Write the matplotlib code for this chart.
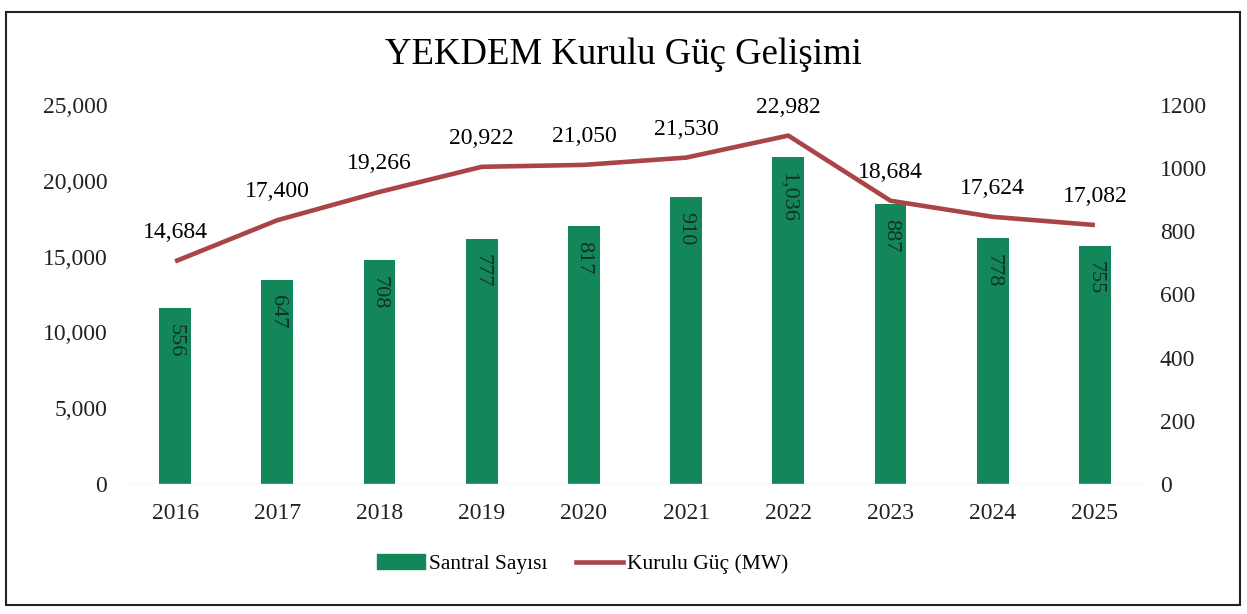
import numpy as np
import matplotlib.pyplot as plt
from matplotlib.patches import Rectangle
from matplotlib.lines import Line2D

plt.rcParams['font.family'] = ['Liberation Serif', 'DejaVu Serif']

years = ['2016', '2017', '2018', '2019', '2020', '2021', '2022', '2023', '2024', '2025']
kurulu_guc = [14684, 17400, 19266, 20922, 21050, 21530, 22982, 18684, 17624, 17082]
santral_sayisi = [556, 647, 708, 777, 817, 910, 1036, 887, 778, 755]

green = '#14875a'
red = '#a94447'

fig = plt.figure(figsize=(12.47, 6.14), dpi=100)
ax = fig.add_axes([124 / 1247, 1 - 484 / 614, (1146 - 124) / 1247, (484 - 105) / 614])
ax2 = ax.twinx()

x = np.arange(len(years))

# bars on the right axis (plant count)
ax2.bar(x, santral_sayisi, width=0.31, color=green, zorder=2)
ax2.set_ylim(0, 1200)
ax2.set_yticks(range(0, 1201, 200))
for xi, v in zip(x, santral_sayisi):
    ax2.annotate(f'{v:,}', (xi, v), xytext=(0, -11), textcoords='offset points',
                 rotation=270, ha='center', va='top', fontsize=16, color='#10302a')

# line on the left axis (installed power)
ax.plot(x, kurulu_guc, color=red, lw=3.3, zorder=3, solid_capstyle='butt')
ax.set_ylim(0, 25000)
ax.set_yticks(range(0, 25001, 5000))
ax.set_yticklabels([f'{v:,}' for v in range(0, 25001, 5000)])
for xi, v in zip(x, kurulu_guc):
    ax.annotate(f'{v:,}', (xi, v), xytext=(0, 13), textcoords='offset points',
                ha='center', va='bottom', fontsize=17)

ax.set_zorder(ax2.get_zorder() + 1)
ax.patch.set_visible(False)

ax.set_xlim(-0.5, len(years) - 0.5)
ax.set_xticks(x)
ax.set_xticklabels(years)

for a in (ax, ax2):
    for s in a.spines.values():
        s.set_visible(False)
    a.tick_params(length=0, labelsize=17, colors='#222222')
ax.tick_params(axis='x', pad=14)
ax.tick_params(axis='y', pad=12)
ax2.tick_params(axis='y', pad=10)
ax.axhline(0, color='#dddddd', lw=1, zorder=1)

fig.text(0.5, 1 - 55 / 614, 'YEKDEM Kurulu Güç Gelişimi', ha='center', va='center', fontsize=26.5)

handles = [Rectangle((0, 0), 1, 1, color=green),
           Line2D([0], [0], color=red, lw=3.3)]
fig.legend(handles, ['Santral Sayısı', 'Kurulu Güç (MW)'], loc='center',
           bbox_to_anchor=(583 / 1247, 1 - 564 / 614), ncol=2, frameon=False,
           fontsize=15.5, handlelength=2.2, handletextpad=0.2, columnspacing=1.3)

# outer frame
fig.add_artist(Rectangle((6 / 1247, 1 - 605 / 614), (1240 - 6) / 1247, (605 - 12) / 614,
                         transform=fig.transFigure, fill=False, edgecolor='#222222', lw=1.5))

fig.savefig('out.png', dpi=100)
